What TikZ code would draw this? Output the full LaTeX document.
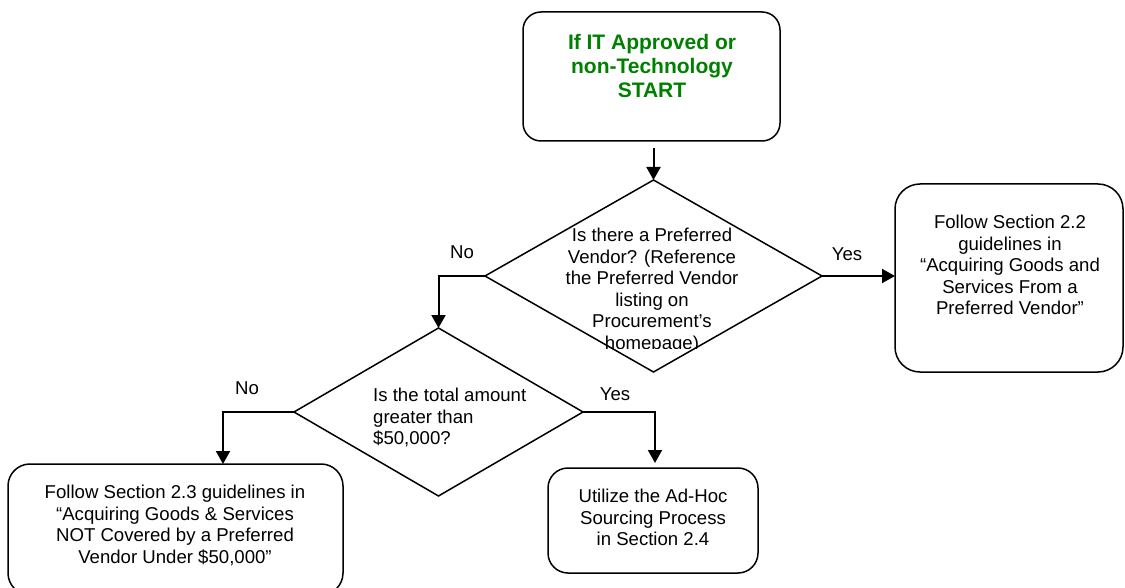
\documentclass[tikz,border=0pt]{standalone}
\usepackage{fontspec}
\setmainfont{Liberation Sans}
\usetikzlibrary{arrows.meta,shapes.geometric}
\definecolor{startgreen}{RGB}{0,128,0}
\tikzset{
  box/.style={draw, line width=1.5pt, inner sep=0pt, outer sep=0pt},
  dia/.style={draw, diamond, line width=1.5pt, inner sep=0pt, outer sep=0pt},
  txt/.style={font=\fontsize{18.6}{21.5}\selectfont, align=center, inner sep=0pt},
  lbl/.style={font=\fontsize{18.6}{21.5}\selectfont, inner sep=0pt},
  flow/.style={line width=2pt, -{Triangle[length=13pt,width=14pt]}},
}
\begin{document}
\begin{tikzpicture}[x=1pt,y=-1pt]
\useasboundingbox (0,0) rectangle (1125,588);
\clip (0,0) rectangle (1125,588);
% boxes
\node[box, rounded corners=18pt, minimum width=257pt, minimum height=129pt] (start) at (651.5,76.5) {};
\node[box, rounded corners=25pt, minimum width=228pt, minimum height=188pt] (rbox) at (1009,278) {};
\node[box, rounded corners=22pt, minimum width=335pt, minimum height=131pt] (bl) at (175.5,529.5) {};
\node[box, rounded corners=20pt, minimum width=210pt, minimum height=105pt] (bm) at (653,520.5) {};
% diamonds
\node[dia, minimum width=337pt, minimum height=192pt] (d1) at (653.5,276) {};
\node[dia, minimum width=289pt, minimum height=168pt] (d2) at (438.5,412) {};
% texts
\node[txt, font=\bfseries\fontsize{21}{24}\selectfont, text=startgreen] (startt) at (652,66) {If IT Approved or\\non-Technology\\START};
\begin{scope}
\clip (480,150) rectangle (830,348);
\node[txt] (d1t) at (652,290.5) {Is there a Preferred\\Vendor? (Reference\\the Preferred Vendor\\listing on\\Procurement’s\\homepage)};
\end{scope}
\node[txt] (rboxt) at (1010,265) {Follow Section 2.2\\guidelines in\\“Acquiring Goods and\\Services From a\\Preferred Vendor”};
\node[txt, align=left, anchor=west] (d2t) at (373,417.5) {Is the total amount\\greater than\\\$50,000?};
\node[txt] (blt) at (175,525.5) {Follow Section 2.3 guidelines in\\“Acquiring Goods \& Services\\NOT Covered by a Preferred\\Vendor Under \$50,000”};
\node[txt] (bmt) at (653,517.5) {Utilize the Ad-Hoc\\Sourcing Process\\in Section 2.4};
% labels
\node[lbl] (no1) at (462,252) {No};
\node[lbl] (yes1) at (847,254) {Yes};
\node[lbl] (no2) at (247,388) {No};
\node[lbl] (yes2) at (615,394) {Yes};
% connectors
\draw[flow, shorten <=7pt] (start.south -| d1.north) -- (d1.north);
\draw[flow] (d1.west) -| (d2.north);
\draw[flow] (d1.east) -- (d1.east -| rbox.west);
\draw[flow] (d2.west) -| ([xshift=47.5pt]bl.north);
\draw[flow, shorten >=5pt] (d2.east) -| ([xshift=2pt]bm.north);
\end{tikzpicture}
\end{document}
